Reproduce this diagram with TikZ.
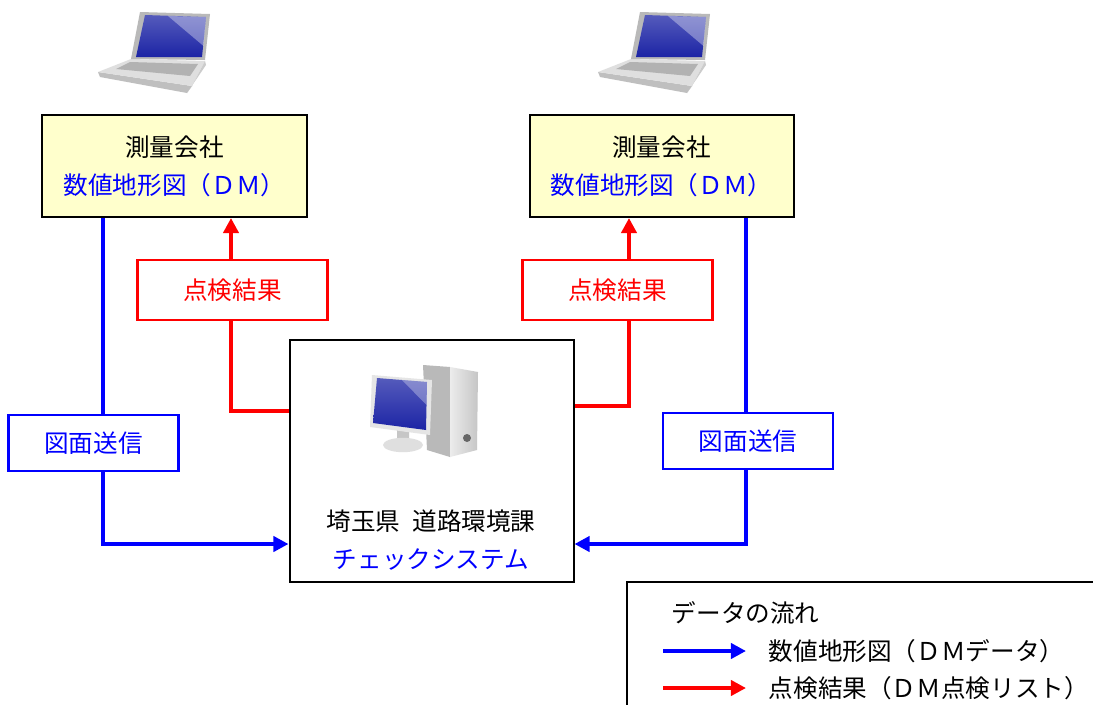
\documentclass[tikz,border=0pt]{standalone}
\usepackage{fontspec}
\setmainfont{Noto Sans CJK JP}
\usetikzlibrary{arrows.meta}

\definecolor{dmblue}{RGB}{0,0,255}
\definecolor{chkred}{RGB}{255,0,0}
\definecolor{kaishafill}{RGB}{255,255,204}
\definecolor{screenblue}{RGB}{28,36,165}

\newcommand{\jpsize}{\fontsize{17.5}{27}\selectfont}

\tikzset{
  kaisha/.style={draw=black, line width=0.5mm, fill=kaishafill,
    minimum width=66mm, minimum height=25.5mm, align=center, font=\jpsize},
  kekkabox/.style={draw=chkred, text=chkred, line width=0.7mm, fill=white,
    minimum width=47.5mm, minimum height=15mm, font=\jpsize},
  soshinbox/.style={draw=dmblue, text=dmblue, line width=0.7mm, fill=white,
    minimum width=42.5mm, minimum height=14mm, font=\jpsize},
  dmline/.style={draw=dmblue, line width=1mm},
  chkline/.style={draw=chkred, line width=1mm},
  tip/.style={-{Triangle[length=3.8mm, width=3.8mm]}},
  laptop/.pic={
    % base
    \fill[gray!50] (18,72) -- (112,86) -- (107,93) -- (20,77) -- cycle;
    \fill[gray!25] (51,59) -- (125,61) -- (112,86) -- (18,72) -- cycle;
    \fill[gray!40] (125,61) -- (126,65) -- (107,93) -- (112,86) -- cycle;
    \fill[gray!60] (50,62) -- (118,64) -- (110,76) -- (36,69) -- cycle;
    % lid
    \fill[gray!55] (60,12) -- (130,14) -- (125,60) -- (51,59) -- cycle;
    \shade[top color=screenblue!75, bottom color=screenblue]
      (65,15) -- (126,17) -- (122,57) -- (56,57) -- cycle;
    \fill[white, opacity=.35] (88,16) -- (126,17) -- (123.5,46) -- cycle;
  },
  desktop/.pic={
    % tower
    \fill[gray!55] (73,15) -- (100,17) -- (100,107) -- (77,100) -- cycle;
    \shade[left color=gray!15, right color=gray!45]
      (100,17) -- (128,22) -- (127,100) -- (100,107) -- cycle;
    \fill[gray!80!black] (117,88) circle[radius=1mm];
    % stand
    \fill[gray!45] (47,80) -- (59,82) -- (59,95) -- (47,95) -- cycle;
    \fill[gray!25] (53,95) ellipse[x radius=5mm, y radius=1.8mm];
    % monitor
    \fill[gray!20] (22,25) -- (82,30) -- (80,85) -- (20,77) -- cycle;
    \shade[top color=screenblue!75, bottom color=screenblue]
      (27,28) -- (77,32) -- (76,80) -- (23,73) -- cycle;
    \fill[white, opacity=.3] (52,30) -- (77,32) -- (76.5,55) -- cycle;
  },
}

\begin{document}
\begin{tikzpicture}[x=0.25mm, y=-0.25mm]
  \useasboundingbox (0,0) rectangle (1093,704);
  \fill[white] (0,0) rectangle (1093,704);
  \clip (0,0) rectangle (1093,704);

  % survey companies
  \pic at (80,0) {laptop};
  \pic at (580,0) {laptop};
  \node[kaisha] (kaisha1) at (174.5,166) {測量会社\\\textcolor{dmblue}{数値地形図（ＤＭ）}};
  \node[kaisha] (kaisha2) at (661.5,166) {測量会社\\\textcolor{dmblue}{数値地形図（ＤＭ）}};

  % check system
  \node[draw=black, line width=0.5mm, fill=white, minimum width=71mm,
    minimum height=60.5mm] (system) at (431.5,461) {};
  \pic at (350,350) {desktop};
  \node[align=center, font=\jpsize] (kenmei) at (431,540)
    {埼玉県\hspace{0.5em}道路環境課\\\textcolor{dmblue}{チェックシステム}};

  \node[kekkabox] (kekka1) at (232.5,290) {点検結果};
  \node[kekkabox] (kekka2) at (617.5,290) {点検結果};
  \node[soshinbox] (soshin1) at (93.5,443) {図面送信};
  \node[soshinbox] (soshin2) at (748,441) {図面送信};

  % lane corners
  \coordinate (b1) at (103,544);
  \coordinate (b2) at (746,544);
  \coordinate (r1) at (231,411);
  \coordinate (r2) at (629,406);

  \draw[dmline] (kaisha1.south -| b1) -- (soshin1.north -| b1);
  \draw[dmline, tip] (soshin1.south -| b1) -- (b1) -- (system.west |- b1);
  \draw[dmline] (kaisha2.south -| b2) -- (soshin2.north -| b2);
  \draw[dmline, tip] (soshin2.south -| b2) -- (b2) -- (system.east |- b2);

  \draw[chkline] (system.west |- r1) -- (r1) -- (kekka1.south -| r1);
  \draw[chkline, tip] (kekka1.north -| r1) -- (kaisha1.south -| r1);
  \draw[chkline] (system.east |- r2) -- (r2) -- (kekka2.south -| r2);
  \draw[chkline, tip] (kekka2.north -| r2) -- (kaisha2.south -| r2);

  % legend
  \node[draw=black, line width=0.5mm, minimum width=130mm, minimum height=40mm,
    anchor=north west] (hanrei) at (626,581) {};
  \node[anchor=west, font=\jpsize] (hanrei-title) at (667,613) {データの流れ};
  \node[anchor=west, font=\jpsize] (hanrei-dm) at (764,651) {数値地形図（ＤＭデータ）};
  \node[anchor=west, font=\jpsize] (hanrei-chk) at (764,688) {点検結果（ＤＭ点検リスト）};
  \coordinate (l1) at (663,651);
  \coordinate (l2) at (663,688);
  \draw[dmline, tip] (l1) -- (hanrei-dm.west -| 746,0);
  \draw[chkline, tip] (l2) -- (hanrei-chk.west -| 746,0);
\end{tikzpicture}
\end{document}
